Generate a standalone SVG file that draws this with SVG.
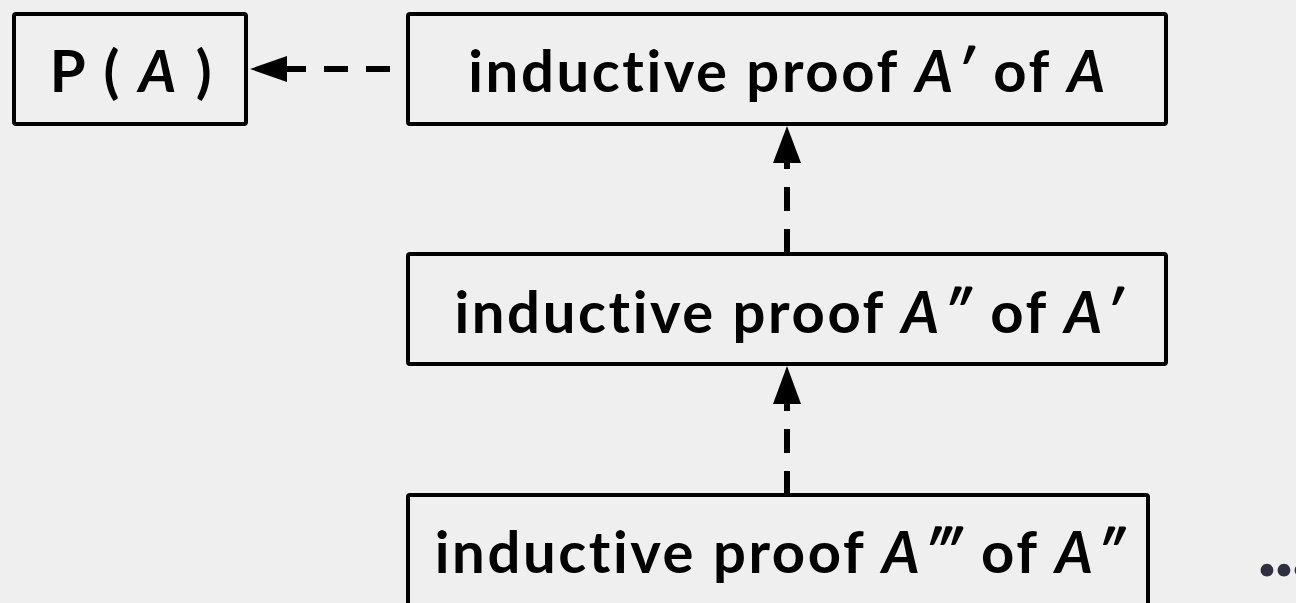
<svg xmlns="http://www.w3.org/2000/svg" width="1296" height="603" viewBox="0 0 1296 603">
<style>
.box{fill:none;stroke:#000;stroke-width:4;}
.lbl{font-family:Lato,"Noto Sans",sans-serif;font-weight:700;font-size:58px;fill:#000;text-anchor:middle;letter-spacing:2.6px;font-variant-ligatures:none;}
.it{font-style:italic;}
.dash{stroke:#000;stroke-width:6;fill:none;stroke-dasharray:24 18;}
.head{fill:#000;}
.dots{font-family:Lato,"Noto Sans",sans-serif;font-weight:700;font-size:84px;fill:#2e3040;letter-spacing:-3px;}
</style>
<rect width="1296" height="603" fill="#efefef"/>
<g id="connectors">
<line class="dash" x1="390" y1="69" x2="286" y2="69" stroke-dasharray="23 18"/>
<polygon class="head" points="250,69 287,56 287,82"/>
<line class="dash" x1="787" y1="253" x2="787" y2="161"/>
<polygon class="head" points="787,126 773,163 801,163"/>
<line class="dash" x1="787" y1="495" x2="787" y2="402" stroke-dasharray="23 18 25 16"/>
<polygon class="head" points="787,366 773,404 801,404"/>
</g>
<g id="pa">
<rect class="box" x="14" y="14" width="232" height="110" rx="2"/>
<text class="lbl" x="132" y="92">P ( <tspan class="it">A</tspan> )</text>
</g>
<g id="proof1">
<rect class="box" x="408" y="14" width="758" height="110" rx="2"/>
<text class="lbl" x="788" y="92">inductive proof <tspan class="it">A′</tspan> of <tspan class="it">A</tspan></text>
</g>
<g id="proof2">
<rect class="box" x="408" y="254" width="758" height="110" rx="2"/>
<text class="lbl" x="790" y="333">inductive proof <tspan class="it">A″</tspan> of <tspan class="it">A′</tspan></text>
</g>
<g id="proof3">
<rect class="box" x="408" y="495" width="740" height="150" rx="2"/>
<text class="lbl" x="781" y="573">inductive proof <tspan class="it">A‴</tspan> of <tspan class="it">A″</tspan></text>
</g>
<g id="ellipsis">
<text class="dots" x="1257" y="576">...</text>
</g>
</svg>
